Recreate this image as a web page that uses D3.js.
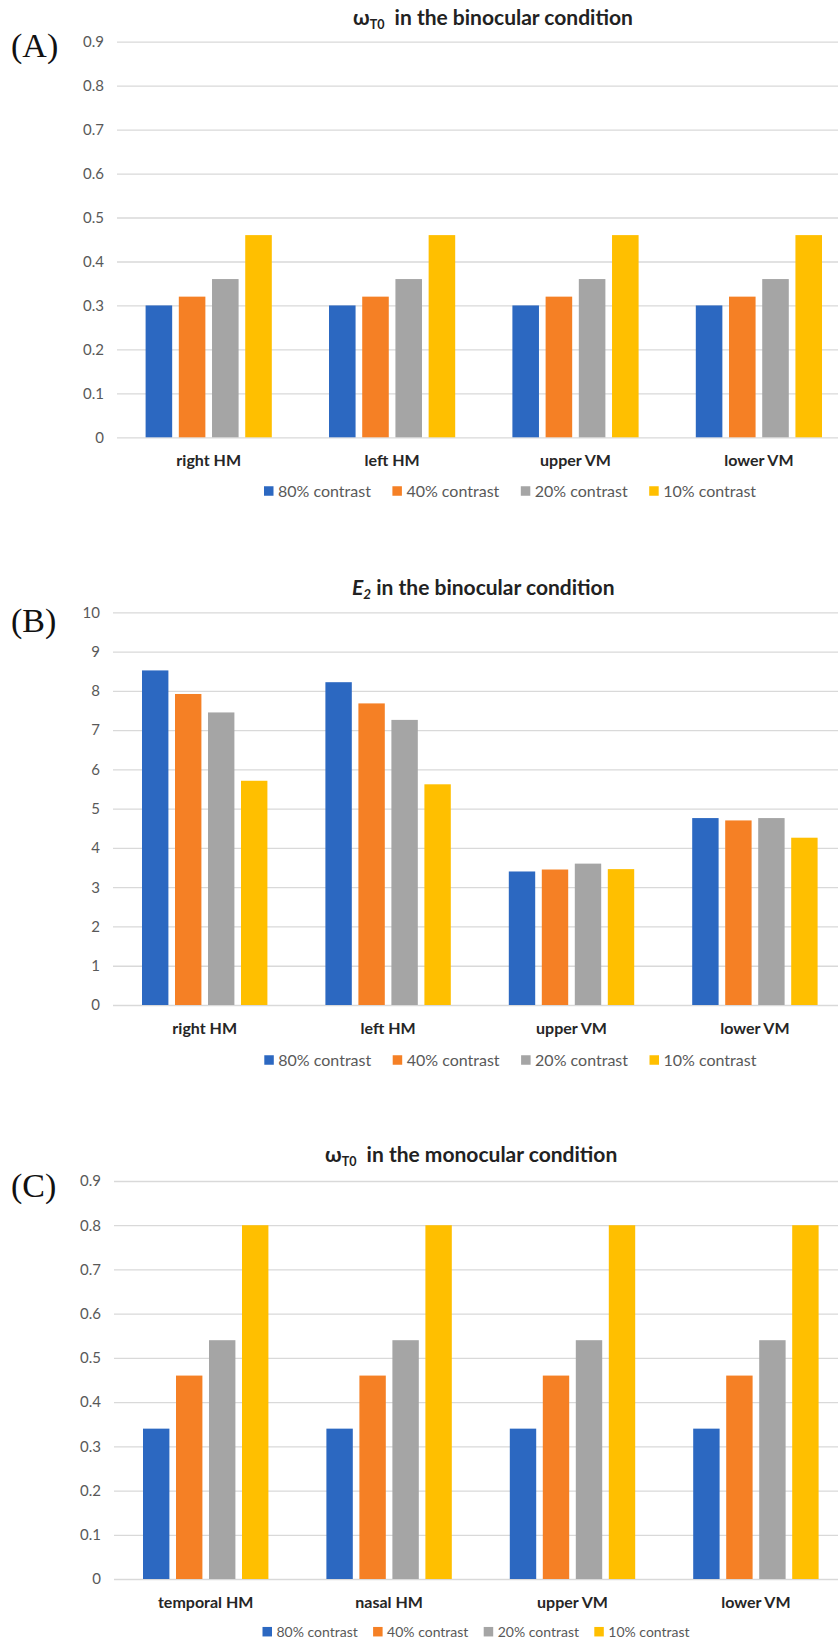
<!DOCTYPE html>
<html>
<head>
<meta charset="utf-8">
<script src="https://cdn.jsdelivr.net/npm/d3@7/dist/d3.min.js"></script>
<style>
  html, body { margin: 0; padding: 0; background: #fff; }
  svg { display: block; }
</style>
</head>
<body>
<svg id="fig" width="838" height="1641"></svg>
<script>
// Series (contrast levels) and their colours
const seriesNames = ["80% contrast", "40% contrast", "20% contrast", "10% contrast"];
const seriesColors = ["#2C68C1", "#F58025", "#A5A5A5", "#FFBF00"];

// Meridian categories
const binocularMeridians = ["right HM", "left HM", "upper VM", "lower VM"];
const monocularMeridians = ["temporal HM", "nasal HM", "upper VM", "lower VM"];

// (A) omega_T0, binocular — one row per meridian, values in series order
const omegaBinRightHM = [0.30, 0.32, 0.36, 0.46];
const omegaBinLeftHM  = [0.30, 0.32, 0.36, 0.46];
const omegaBinUpperVM = [0.30, 0.32, 0.36, 0.46];
const omegaBinLowerVM = [0.30, 0.32, 0.36, 0.46];

// (B) E2, binocular
const e2BinRightHM = [8.52, 7.92, 7.45, 5.71];
const e2BinLeftHM  = [8.22, 7.68, 7.26, 5.62];
const e2BinUpperVM = [3.40, 3.45, 3.60, 3.46];
const e2BinLowerVM = [4.76, 4.70, 4.76, 4.26];

// (C) omega_T0, monocular
const omegaMonTemporalHM = [0.34, 0.46, 0.54, 0.80];
const omegaMonNasalHM    = [0.34, 0.46, 0.54, 0.80];
const omegaMonUpperVM    = [0.34, 0.46, 0.54, 0.80];
const omegaMonLowerVM    = [0.34, 0.46, 0.54, 0.80];

// Tick labels
const omegaTicks = [0, 0.1, 0.2, 0.3, 0.4, 0.5, 0.6, 0.7, 0.8, 0.9];
const e2Ticks = [0, 1, 2, 3, 4, 5, 6, 7, 8, 9, 10];

const svg = d3.select("#fig");
const FONT = "Lato, 'Open Sans', 'DejaVu Sans', sans-serif";

function drawPanel(p) {
  const g = svg.append("g");

  const x0 = d3.scaleBand()
    .domain(p.categories)
    .range([p.left, p.left + p.bandStep * p.categories.length]);

  const x1 = d3.scaleBand()
    .domain(seriesNames)
    .range([p.groupPad, x0.bandwidth() - p.groupPad])
    .paddingInner(0.2);

  const y = d3.scaleLinear().domain(p.domain).range([p.bottom, p.top]);

  // gridlines + value labels via a left axis
  const axis = d3.axisLeft(y)
    .tickValues(p.ticks)
    .tickFormat(d3.format(p.fmt))
    .tickSize(-(838 - p.left + 20))
    .tickPadding(p.left - p.labelRight);

  const ag = g.append("g")
    .attr("transform", `translate(${p.left},0)`)
    .call(axis);
  ag.select(".domain").remove();
  ag.selectAll(".tick line")
    .attr("stroke", "#D9D9D9")
    .attr("stroke-width", 1.3);
  ag.selectAll(".tick text")
    .attr("fill", "#595959")
    .style("font-family", FONT)
    .style("font-size", p.tickSize + "px");

  // bars
  const groups = g.selectAll(".grp")
    .data(p.categories.map((c, i) => ({ cat: c, vals: p.rows[i] })))
    .join("g")
    .attr("transform", d => `translate(${x0(d.cat)},0)`);

  groups.selectAll("rect")
    .data(d => d.vals.map((v, j) => ({ s: seriesNames[j], v, j })))
    .join("rect")
    .attr("x", d => x1(d.s))
    .attr("width", x1.bandwidth())
    .attr("y", d => y(d.v))
    .attr("height", d => y(0) - y(d.v))
    .attr("fill", d => seriesColors[d.j]);

  // category labels
  g.selectAll(".cat")
    .data(p.categories)
    .join("text")
    .attr("x", d => x0(d) + x0.bandwidth() / 2)
    .attr("y", p.catY)
    .attr("text-anchor", "middle")
    .attr("fill", "#262626")
    .style("font-family", FONT)
    .style("font-weight", "700")
    .style("font-size", "16px")
    .text(d => d);

  // legend
  const lg = g.append("g");
  seriesNames.forEach((s, j) => {
    const lx = p.legendX + j * p.legendStep;
    lg.append("rect")
      .attr("x", lx)
      .attr("y", p.legendY - p.legendBox / 2)
      .attr("width", p.legendBox)
      .attr("height", p.legendBox)
      .attr("fill", seriesColors[j]);
    lg.append("text")
      .attr("x", lx + p.legendBox + 4.5)
      .attr("y", p.legendY)
      .attr("dy", "0.35em")
      .attr("fill", "#595959")
      .style("font-family", FONT)
      .style("font-size", p.legendFont + "px")
      .text(s);
  });

  // title
  const t = g.append("text")
    .attr("x", p.titleX)
    .attr("y", p.titleY)
    .attr("fill", "#222")
    .style("font-family", FONT)
    .style("font-weight", "700")
    .style("font-size", "21px");
  p.title(t);

  // panel letter
  g.append("text")
    .attr("x", 11)
    .attr("y", p.letterY)
    .attr("fill", "#111")
    .style("font-family", "'Liberation Serif', 'Times New Roman', serif")
    .style("font-size", "34px")
    .text(p.letter);
}

function omegaTitle(rest) {
  return t => {
    t.append("tspan").text("ω");
    t.append("tspan").attr("dy", 4).style("font-size", "12.5px").text("T0");
    t.append("tspan").attr("dy", -4).text("\u00a0 " + rest);
  };
}

drawPanel({
  letter: "(A)", letterY: 57,
  categories: binocularMeridians,
  rows: [omegaBinRightHM, omegaBinLeftHM, omegaBinUpperVM, omegaBinLowerVM],
  domain: [0, 0.9], ticks: omegaTicks, fmt: ".1~f",
  left: 117, bandStep: 183.4, groupPad: 28.6,
  top: 41.7, bottom: 437.3, labelRight: 104, tickSize: 15,
  catY: 465.5,
  legendX: 264, legendStep: 128.4, legendY: 491, legendBox: 9.5, legendFont: 16,
  titleX: 353, titleY: 25,
  title: omegaTitle("in the binocular condition")
});

drawPanel({
  letter: "(B)", letterY: 632,
  categories: binocularMeridians,
  rows: [e2BinRightHM, e2BinLeftHM, e2BinUpperVM, e2BinLowerVM],
  domain: [0, 10], ticks: e2Ticks, fmt: "d",
  left: 113, bandStep: 183.4, groupPad: 29,
  top: 612.3, bottom: 1005, labelRight: 100, tickSize: 15,
  catY: 1034,
  legendX: 264.3, legendStep: 128.4, legendY: 1060, legendBox: 9.5, legendFont: 16,
  titleX: 352, titleY: 594.5,
  title: t => {
    t.append("tspan").style("font-style", "italic").text("E");
    t.append("tspan").attr("dy", 4).style("font-style", "italic").style("font-size", "13.5px").text("2");
    t.append("tspan").attr("dy", -4).text(" in the binocular condition");
  }
});

drawPanel({
  letter: "(C)", letterY: 1196.5,
  categories: monocularMeridians,
  rows: [omegaMonTemporalHM, omegaMonNasalHM, omegaMonUpperVM, omegaMonLowerVM],
  domain: [0, 0.9], ticks: omegaTicks, fmt: ".1~f",
  left: 114, bandStep: 183.4, groupPad: 29,
  top: 1181, bottom: 1579, labelRight: 101, tickSize: 15,
  catY: 1608,
  legendX: 262.5, legendStep: 110.6, legendY: 1631.7, legendBox: 9.5, legendFont: 14,
  titleX: 325, titleY: 1162,
  title: omegaTitle("in the monocular condition")
});
</script>
</body>
</html>
